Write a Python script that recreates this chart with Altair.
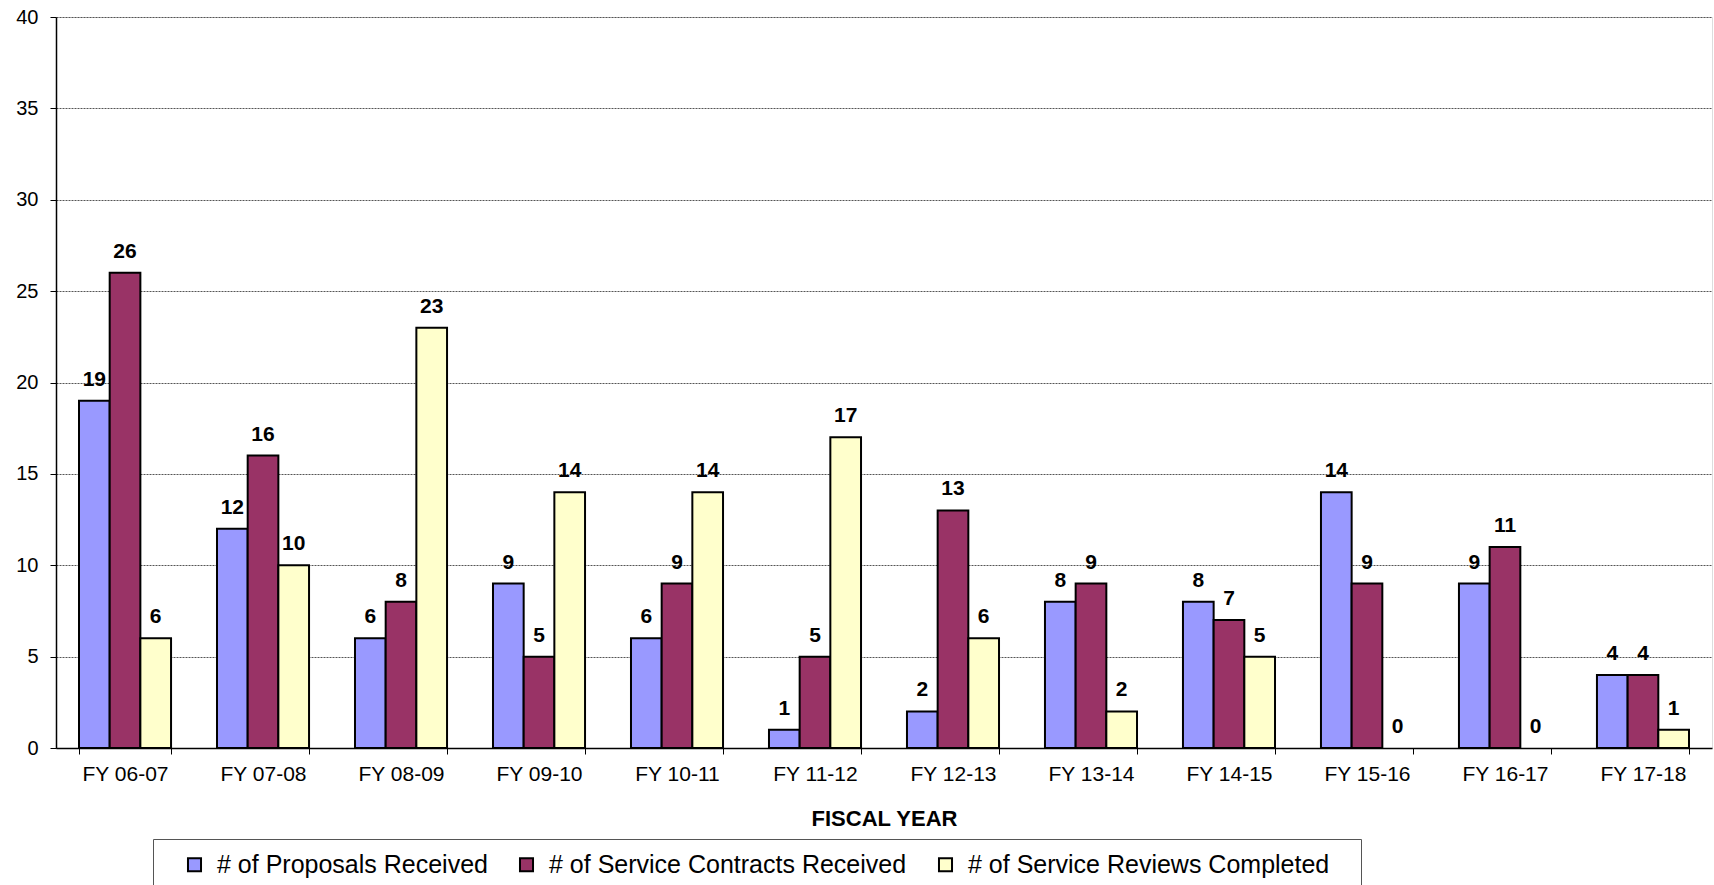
import altair as alt
import pandas as pd

years = ["FY 06-07", "FY 07-08", "FY 08-09", "FY 09-10", "FY 10-11", "FY 11-12",
         "FY 12-13", "FY 13-14", "FY 14-15", "FY 15-16", "FY 16-17", "FY 17-18"]
series = ["# of Proposals Received", "# of Service Contracts Received",
          "# of Service Reviews Completed"]
proposals = [19, 12, 6, 9, 6, 1, 2, 8, 8, 14, 9, 4]
contracts = [26, 16, 8, 5, 9, 5, 13, 9, 7, 9, 11, 4]
reviews = [6, 10, 23, 14, 14, 17, 6, 2, 5, 0, 0, 1]
colors = ["#9999FF", "#993366", "#FFFFCC"]

rows = []
for s, vals in zip(series, [proposals, contracts, reviews]):
    for y, v in zip(years, vals):
        rows.append({"year": y, "series": s, "value": v})
df = pd.DataFrame(rows)

FONT = "Liberation Sans"

x = alt.X("year:N", sort=years, title="FISCAL YEAR",
          scale=alt.Scale(paddingInner=0.333, paddingOuter=0.1667),
          axis=alt.Axis(labelAngle=0, tickBand="extent", labelFontSize=21,
                        labelFont=FONT, labelColor="#000", labelPadding=9,
                        titleFont=FONT, titleFontSize=22, titleFontWeight="bold",
                        titleColor="#000", titlePadding=24,
                        domainColor="#000", domainWidth=1.5,
                        tickColor="#000", tickSize=6, grid=False))
xo = alt.XOffset("series:N", sort=series, scale=alt.Scale(paddingInner=0, paddingOuter=0))
yenc = alt.Y("value:Q", title=None,
             scale=alt.Scale(domain=[0, 40], nice=False),
             axis=alt.Axis(values=list(range(0, 41, 5)), labelFontSize=20,
                           labelFont=FONT, labelColor="#000", labelPadding=12,
                           domainColor="#000", domainWidth=1.5,
                           tickColor="#000", tickSize=6,
                           grid=True, gridColor="#555", gridDash=[2, 1], gridWidth=1))

last = series[-1]
pad_right = "\u2800"
bars = alt.Chart(df).mark_bar(stroke="#000", strokeWidth=2).encode(
    x=x, xOffset=xo, y=yenc,
    strokeOpacity=alt.condition("datum.value > 0", alt.value(1), alt.value(0)),
    color=alt.Color("series:N", sort=series,
                    scale=alt.Scale(domain=series, range=colors),
                    legend=alt.Legend(title="\u00a0", titleOrient="left", titlePadding=16,
                                      titleFontSize=26,
                                      orient="none", direction="horizontal",
                                      legendX=97, legendY=822,
                                      symbolType="square", symbolSize=170,
                                      symbolStrokeColor="#000", symbolStrokeWidth=2,
                                      symbolOpacity=1,
                                      labelFont=FONT, labelFontSize=25, labelColor="#000",
                                      labelOffset=10, columnPadding=26,
                                      labelLimit=0,
                                      labelExpr=f"datum.label == '{last}' ? datum.label + '{pad_right}' : datum.label",
                                      strokeColor="#555", padding=13,
                                      fillColor="#fff")),
)

labels = alt.Chart(df).mark_text(font=FONT, fontSize=21, fontWeight="bold",
                                 baseline="alphabetic", dy=-15, color="#000").encode(
    x=x, xOffset=xo, y=yenc, text="value:Q"
)

chart = alt.layer(bars, labels).properties(
    width=1656, height=731,
    autosize=alt.AutoSizeParams(type="none"),
    padding={"left": 56, "top": 17, "right": 2, "bottom": 137},
).configure_view(stroke=None).configure(background="#fff")

chart.save("out.html", embed_options={"renderer": "svg", "actions": False})
